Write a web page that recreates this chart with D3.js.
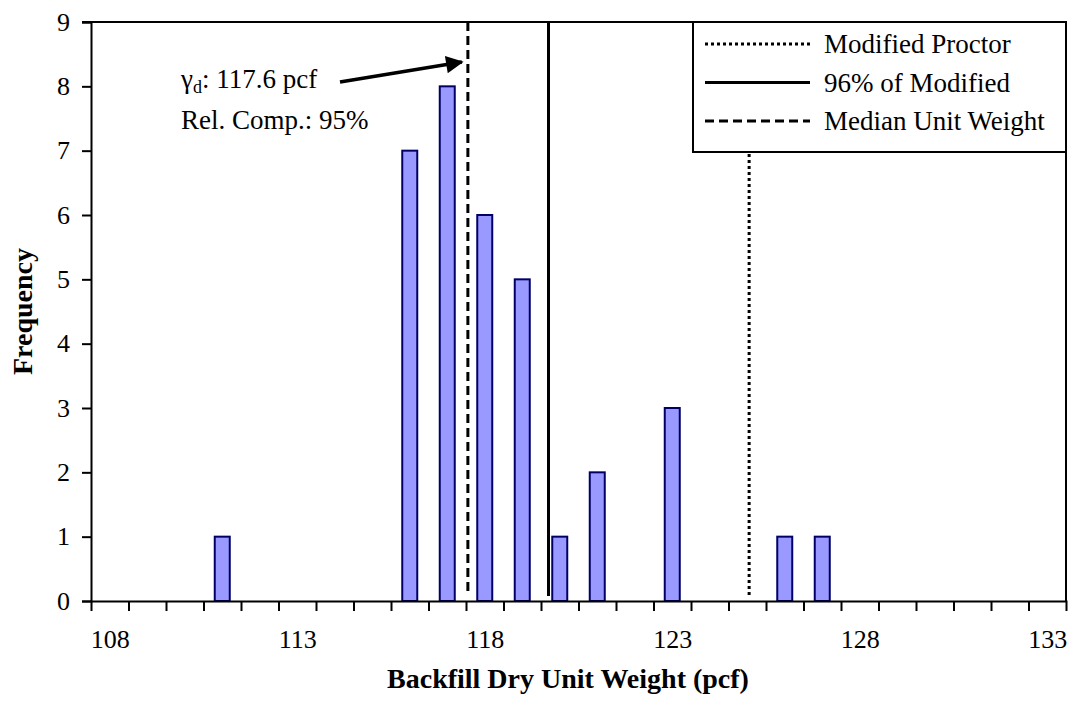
<!DOCTYPE html>
<html>
<head>
<meta charset="utf-8">
<script src="https://cdn.jsdelivr.net/npm/d3@7"></script>
<style>
  body { margin: 0; background: #fff; }
  svg, svg text { font-family: "Times New Roman", "Liberation Serif", serif; }
</style>
</head>
<body>
<svg id="chart"></svg>
<script>
const width = 1073;
const height = 702;

// histogram data (dry unit weight bins, pcf)
const weights = [111, 116, 117, 118, 119, 120, 121, 123, 126, 127];
const counts = [1, 7, 8, 6, 5, 1, 2, 3, 1, 1];

// tick labels
const xLabels = [108, 113, 118, 123, 128, 133];
const yLabels = [0, 1, 2, 3, 4, 5, 6, 7, 8, 9];

// reference lines
const refNames = ["Modified Proctor", "96% of Modified", "Median Unit Weight"];
const refValues = [125.05, 119.7, 117.55];
const refDash = ["3,3", null, "9,5"];

// annotation
const noteLines = ["117.6 pcf", "Rel. Comp.: 95%"];

const plotLeft = 91, plotRight = 1066, plotTop = 22, plotBottom = 601;

const svg = d3.select("#chart").attr("width", width).attr("height", height);

// category bins are 1 pcf wide, edges at half values
const x = d3.scaleLinear().domain([107.5, 133.5]).range([plotLeft, plotRight]);
const y = d3.scaleLinear().domain([0, 9]).range([plotBottom, plotTop]);
const barW = (x(1) - x(0)) * 0.4;

// bars
svg.append("g")
  .selectAll("rect")
  .data(weights)
  .join("rect")
  .attr("x", (d) => x(d) - barW / 2)
  .attr("y", (d, i) => y(counts[i]))
  .attr("width", barW)
  .attr("height", (d, i) => y(0) - y(counts[i]))
  .attr("fill", "#9999ff")
  .attr("stroke", "#000066")
  .attr("stroke-width", 2);

// vertical reference lines
svg.append("g")
  .selectAll("line")
  .data(refValues)
  .join("line")
  .attr("x1", (d) => x(d))
  .attr("x2", (d) => x(d))
  .attr("y1", plotTop)
  .attr("y2", y(0) - 5)
  .attr("stroke", "#000")
  .attr("stroke-width", 3)
  .attr("stroke-dasharray", (d, i) => refDash[i]);

// frame (top + right)
svg.append("path")
  .attr("d", `M${plotLeft - 9},${plotTop}H${plotRight}V${plotBottom}`)
  .attr("fill", "none")
  .attr("stroke", "#000")
  .attr("stroke-width", 2);

// y axis
const yAxis = svg.append("g")
  .attr("transform", `translate(${plotLeft},0)`)
  .call(d3.axisLeft(y).tickValues(yLabels).tickSize(9).tickPadding(12).tickFormat(d3.format("d")))
  .attr("font-family", null)
  .attr("font-size", 26);
yAxis.select(".domain").attr("stroke-width", 2);
yAxis.selectAll(".tick line").attr("stroke-width", 2);

// x axis: ticks on bin edges
const xTicks = d3.range(108.5, 133.5, 1);
const xAxis = svg.append("g")
  .attr("transform", `translate(0,${plotBottom})`)
  .call(d3.axisBottom(x).tickValues(xTicks).tickSize(10).tickFormat(""));
xAxis.select(".domain").attr("stroke-width", 2);
xAxis.selectAll(".tick line").attr("stroke-width", 2);

// x labels every 5 bins
svg.append("g")
  .attr("transform", `translate(0,${plotBottom})`)
  .call(d3.axisBottom(x).tickValues(xLabels).tickSize(0).tickPadding(29).tickFormat(d3.format("d")))
  .attr("font-family", null)
  .attr("font-size", 26)
  .call((g) => g.select(".domain").remove());

// axis titles
svg.append("text")
  .attr("x", 568)
  .attr("y", 688)
  .attr("text-anchor", "middle")
  .attr("font-size", 28)
  .attr("font-weight", "bold")
  .text("Backfill Dry Unit Weight (pcf)");

svg.append("text")
  .attr("transform", `translate(32,${(plotTop + plotBottom) / 2}) rotate(-90)`)
  .attr("text-anchor", "middle")
  .attr("font-size", 28)
  .attr("font-weight", "bold")
  .text("Frequency");

// annotation with arrow
const defs = svg.append("defs");
defs.append("marker")
  .attr("id", "arrow")
  .attr("viewBox", "0 0 10 10")
  .attr("refX", 9)
  .attr("refY", 5)
  .attr("markerWidth", 7)
  .attr("markerHeight", 5)
  .attr("orient", "auto")
  .append("path")
  .attr("d", "M0,0L10,5L0,10Z")
  .attr("fill", "#000");

const note = svg.append("text")
  .attr("x", 181)
  .attr("y", 88)
  .attr("font-size", 27);
note.append("tspan").text("γ");
note.append("tspan").attr("font-size", 18).attr("dy", 5).text("d");
note.append("tspan").attr("dy", -5).text(": " + noteLines[0]);

svg.append("text")
  .attr("x", 181)
  .attr("y", 129)
  .attr("font-size", 27)
  .text(noteLines[1]);

svg.append("line")
  .attr("x1", 340)
  .attr("y1", 82)
  .attr("x2", x(refValues[2]) - 6)
  .attr("y2", 62)
  .attr("stroke", "#000")
  .attr("stroke-width", 3.5)
  .attr("marker-end", "url(#arrow)");

// legend
const lg = svg.append("g").attr("transform", "translate(693,22)");
lg.append("rect")
  .attr("width", plotRight - 693)
  .attr("height", 130)
  .attr("fill", "#fff")
  .attr("stroke", "#000")
  .attr("stroke-width", 2);

const rows = lg.selectAll("g.row")
  .data(refNames)
  .join("g")
  .attr("class", "row")
  .attr("transform", (d, i) => `translate(0,${22 + i * 38.5})`);

rows.append("line")
  .attr("x1", 12)
  .attr("x2", 117)
  .attr("stroke", "#000")
  .attr("stroke-width", 3)
  .attr("stroke-dasharray", (d, i) => refDash[i]);

rows.append("text")
  .attr("x", 131)
  .attr("y", 9)
  .attr("font-size", 27)
  .text((d) => d);
</script>
</body>
</html>
